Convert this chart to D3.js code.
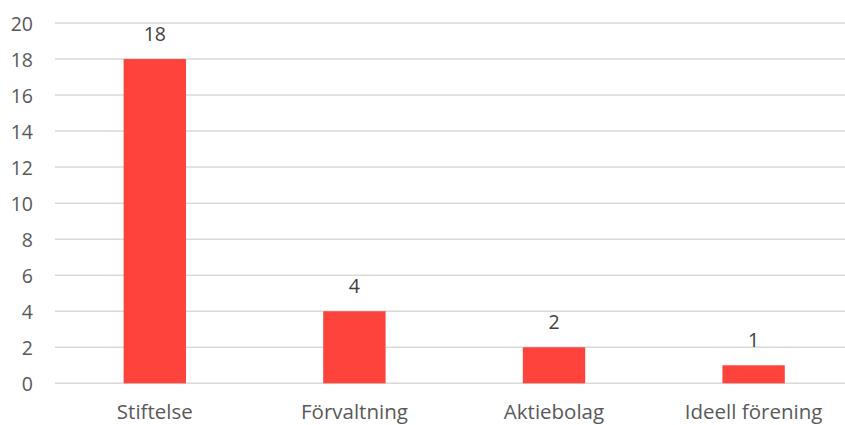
<!DOCTYPE html>
<html><head><meta charset="utf-8">
<script src="https://cdn.jsdelivr.net/npm/d3@7"></script>
<style>body{margin:0;background:#fff}svg{display:block}text{font-family:"Open Sans",sans-serif}</style>
</head><body><svg id="c" width="845" height="425"></svg>
<script>
const categories = ["Stiftelse", "Förvaltning", "Aktiebolag", "Ideell förening"];
const values = [18, 4, 2, 1];
const yTicks = [0, 2, 4, 6, 8, 10, 12, 14, 16, 18, 20];

const svg = d3.select("#c");
const x = d3.scaleBand().domain(categories).range([55, 853.4]).paddingInner(0.6875).paddingOuter(0.34375);
const y = d3.scaleLinear().domain([0, 20]).range([383.3, 23]);

const grid = svg.append("g");
grid.selectAll("line").data(yTicks).join("line")
  .attr("x1", 55).attr("x2", 845)
  .attr("y1", d => y(d)).attr("y2", d => y(d))
  .attr("stroke", "#d9d9d9").attr("stroke-width", 1.5);

const yAxis = svg.append("g").attr("transform", "translate(33,0)")
  .call(d3.axisLeft(y).tickValues(yTicks).tickSize(0).tickPadding(0));
yAxis.select(".domain").remove();
yAxis.selectAll("text").attr("fill", "#595959").style("font-size", "19.5px").style("font-family", '"Open Sans",sans-serif').attr("dy", "0.36em");

svg.append("g").selectAll("text").data(values).join("text")
  .attr("x", (d, i) => x(categories[i]) + x.bandwidth() / 2)
  .attr("y", d => y(d) - 18)
  .attr("text-anchor", "middle")
  .attr("fill", "#404040").style("font-size", "19.5px")
  .text(d => d);

svg.append("g").selectAll("rect").data(values).join("rect")
  .attr("x", (d, i) => x(categories[i]))
  .attr("width", x.bandwidth())
  .attr("y", d => y(d))
  .attr("height", d => y(0) - y(d))
  .attr("fill", "#fd433c");

const xAxis = svg.append("g").attr("transform", "translate(0,418.5)")
  .call(d3.axisBottom(x).tickSize(0).tickPadding(0));
xAxis.select(".domain").remove();
xAxis.selectAll("text").attr("dy", 0).attr("fill", "#595959").style("font-size", "20.5px").style("font-family", '"Open Sans",sans-serif');
</script></body></html>
